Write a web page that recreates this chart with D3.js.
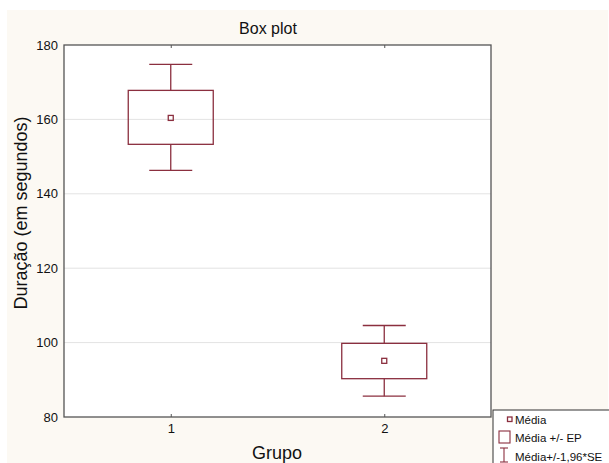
<!DOCTYPE html>
<html>
<head>
<meta charset="utf-8">
<script src="https://cdn.jsdelivr.net/npm/d3@7"></script>
<style>
  body { margin: 0; background: #fff; }
  text { font-family: "Liberation Sans", Arial, sans-serif; }
</style>
</head>
<body>
<div id="chart"></div>
<script>
// data
const groups = ["1", "2"];
const means = [160.4, 95.1];
const seLow = [153.3, 90.3];
const seHigh = [167.8, 99.8];
const ciLow = [146.3, 85.6];
const ciHigh = [174.8, 104.6];
const yTicks = [80, 100, 120, 140, 160, 180];
const legendLabels = ["Média", "Média +/- EP", "Média+/-1,96*SE"];

const width = 609, height = 463;
const margin = { top: 45, right: 118, bottom: 46, left: 64 };
const red = "#8b2f3f";

const svg = d3.select("#chart").append("svg")
    .attr("width", width).attr("height", height);

// cream background
svg.append("rect").attr("x", 7).attr("y", 10)
    .attr("width", width - 8).attr("height", height - 10)
    .attr("fill", "#fcf9f3");

const x = d3.scaleLinear().domain([0.5, 2.5])
    .range([margin.left, width - margin.right]);
const y = d3.scaleLinear().domain([80, 180])
    .range([height - margin.bottom, margin.top]);

// plot area
svg.append("rect")
    .attr("x", x.range()[0]).attr("y", y(180))
    .attr("width", x.range()[1] - x.range()[0]).attr("height", y(80) - y(180))
    .attr("fill", "#fff");

// grid
svg.append("g").selectAll("line").data(yTicks.slice(1, -1)).join("line")
    .attr("x1", x.range()[0]).attr("x2", x.range()[1])
    .attr("y1", d => y(d)).attr("y2", d => y(d))
    .attr("stroke", "#e3e3e3").attr("stroke-width", 1);

// y axis
const yAxis = svg.append("g")
    .attr("transform", `translate(${x.range()[0]},0)`)
    .call(d3.axisLeft(y).tickValues(yTicks).tickSize(0).tickPadding(6));
yAxis.select(".domain").remove();
yAxis.selectAll("text").attr("font-size", 13).attr("fill", "#111");

// x axis (bottom)
const xAxis = svg.append("g")
    .attr("transform", `translate(0,${y(80)})`)
    .call(d3.axisBottom(x).tickValues([1, 2]).tickFormat((d, i) => groups[i])
        .tickSizeInner(-3).tickSizeOuter(0).tickPadding(7));
xAxis.select(".domain").remove();
xAxis.selectAll("line").attr("stroke", "#555");
xAxis.selectAll("text").attr("font-size", 13).attr("fill", "#111");

// top ticks
svg.append("g").attr("transform", `translate(0,${y(180)})`)
    .call(d3.axisTop(x).tickValues([1, 2]).tickFormat("").tickSizeInner(-3).tickSizeOuter(0))
    .call(g => g.select(".domain").remove())
    .selectAll("line").attr("stroke", "#555");

// frame
svg.append("rect")
    .attr("x", x.range()[0]).attr("y", y(180))
    .attr("width", x.range()[1] - x.range()[0]).attr("height", y(80) - y(180))
    .attr("fill", "none").attr("stroke", "#555").attr("stroke-width", 1.3);

// boxes
const boxW = 85, capW = 43;
const gBox = svg.append("g").attr("stroke", red).attr("stroke-width", 1.3).attr("fill", "none");
groups.forEach((gname, i) => {
    const cx = x(i + 1);
    gBox.append("line").attr("x1", cx).attr("x2", cx)
        .attr("y1", y(ciHigh[i])).attr("y2", y(seHigh[i]));
    gBox.append("line").attr("x1", cx).attr("x2", cx)
        .attr("y1", y(seLow[i])).attr("y2", y(ciLow[i]));
    gBox.append("line").attr("x1", cx - capW / 2).attr("x2", cx + capW / 2)
        .attr("y1", y(ciHigh[i])).attr("y2", y(ciHigh[i]));
    gBox.append("line").attr("x1", cx - capW / 2).attr("x2", cx + capW / 2)
        .attr("y1", y(ciLow[i])).attr("y2", y(ciLow[i]));
    gBox.append("rect").attr("x", cx - boxW / 2).attr("y", y(seHigh[i]))
        .attr("width", boxW).attr("height", y(seLow[i]) - y(seHigh[i]));
    gBox.append("rect").attr("x", cx - 2.5).attr("y", y(means[i]) - 2.5)
        .attr("width", 5).attr("height", 5);
});

// title and axis labels
svg.append("text").attr("x", 268).attr("y", 34).attr("text-anchor", "middle")
    .attr("font-size", 16).attr("fill", "#111").text("Box plot");
svg.append("text").attr("x", 277).attr("y", 459)
    .attr("text-anchor", "middle").attr("font-size", 18).attr("fill", "#111").text("Grupo");
svg.append("text").attr("transform", `translate(27,213) rotate(-90)`)
    .attr("text-anchor", "middle").attr("font-size", 18).attr("fill", "#111")
    .text("Duração (em segundos)");

// legend
const lg = svg.append("g").attr("transform", "translate(493,410)");
lg.append("rect").attr("x", 0).attr("y", 0).attr("width", 130).attr("height", 70)
    .attr("fill", "#fff").attr("stroke", "#333").attr("stroke-width", 1);
lg.selectAll("text").data(legendLabels).join("text")
    .attr("x", 22).attr("y", (d, i) => 13.5 + i * 18.5)
    .attr("font-size", 11.5).attr("fill", "#111").text(d => d);
lg.append("rect").attr("x", 14.5).attr("y", 7).attr("width", 4.5).attr("height", 4.5)
    .attr("fill", "none").attr("stroke", red).attr("stroke-width", 1.3);
lg.append("rect").attr("x", 6).attr("y", 21).attr("width", 11).attr("height", 12)
    .attr("fill", "none").attr("stroke", red).attr("stroke-width", 1.1);
const wk = lg.append("g").attr("stroke", red).attr("stroke-width", 1.1);
wk.append("line").attr("x1", 7).attr("x2", 15).attr("y1", 38).attr("y2", 38);
wk.append("line").attr("x1", 11).attr("x2", 11).attr("y1", 38).attr("y2", 52);
wk.append("line").attr("x1", 7).attr("x2", 15).attr("y1", 52).attr("y2", 52);
</script>
</body>
</html>
